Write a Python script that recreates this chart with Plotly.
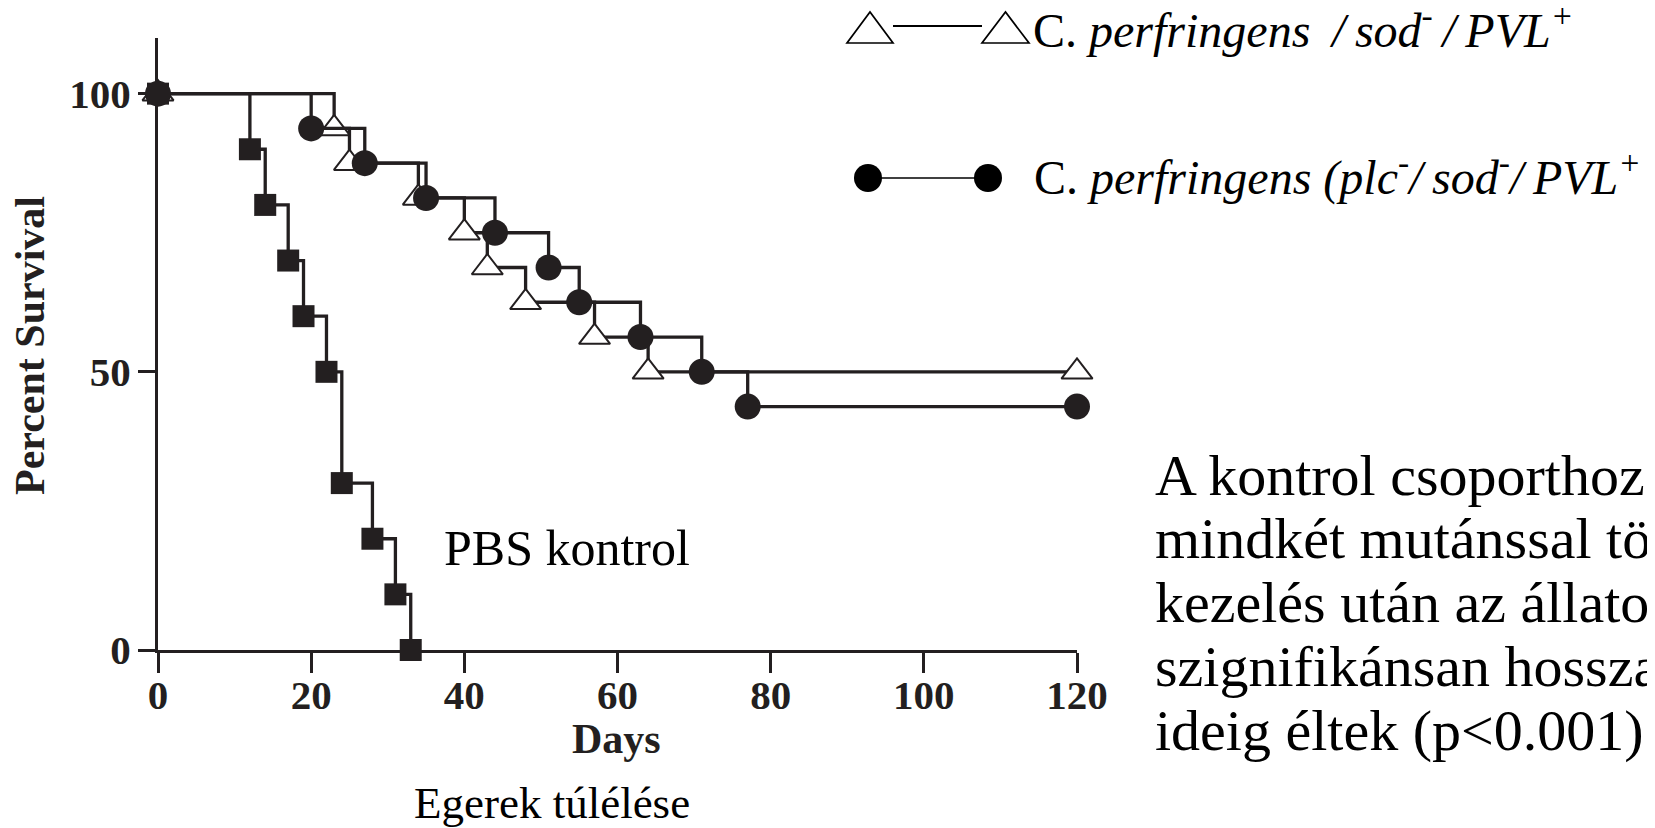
import plotly.graph_objects as go

# ---- data ----
days_pbs = [0, 12, 14, 17, 19, 22, 24, 28, 31, 33]
surv_pbs = [100, 90, 80, 70, 60, 50, 30, 20, 10, 0]

days_sod = [0, 23, 25, 34, 40, 43, 48, 57, 64, 120]
surv_sod = [100, 93.75, 87.5, 81.25, 75, 68.75, 62.5, 56.25, 50, 50]

days_plc = [0, 20, 27, 35, 44, 51, 55, 63, 71, 77, 120]
surv_plc = [100, 93.75, 87.5, 81.25, 75, 68.75, 62.5, 56.25, 50, 43.75, 43.75]

x_ticks = [0, 20, 40, 60, 80, 100, 120]
y_ticks = [0, 50, 100]

TS = "\u2009"  # thin space
legend_sod = f"C. <i>perfringens {TS}/{TS}sod<sup>-</sup>{TS}/{TS}PVL<sup>+</sup></i>"
legend_plc = f"C. <i>perfringens (plc<sup>-</sup>/{TS}sod<sup>-</sup>/{TS}PVL<sup>+</sup></i>"
note_lines = ["A kontrol csoporthoz képest",
              "mindkét mutánssal történő",
              "kezelés után az állatok",
              "szignifikánsan hosszabb",
              "ideig éltek (p<0.001)"]

# ---- geometry (page has an 8px body margin; targets are page pixels) ----
OFF = 8
W, H = 1655 - OFF, 828 - OFF
L, R, T, B = 150, 578, 30, 178
PW, PH = W - L - R, H - T - B
INK = "#231f20"
SERIF = "Liberation Serif"


def px(x):
    return (x - OFF - L) / PW


def py(y):
    return (H - B - (y - OFF)) / PH


fig = go.Figure()

fig.add_trace(go.Scatter(
    x=days_pbs, y=surv_pbs, mode="lines+markers", line_shape="hv",
    line=dict(color=INK, width=3.3),
    marker=dict(symbol="square", size=22, color=INK),
    cliponaxis=False, showlegend=False, name="PBS kontrol"))

fig.add_trace(go.Scatter(
    x=days_sod, y=surv_sod, mode="lines+markers", line_shape="hv",
    line=dict(color=INK, width=3.3),
    marker=dict(symbol="triangle-up", size=27, color="white",
                line=dict(color=INK, width=2)),
    cliponaxis=False, showlegend=False, name="sod-/PVL+"))

fig.add_trace(go.Scatter(
    x=days_plc, y=surv_plc, mode="lines+markers", line_shape="hv",
    line=dict(color=INK, width=3.3),
    marker=dict(symbol="circle", size=26, color=INK),
    cliponaxis=False, showlegend=False, name="plc-/sod-/PVL+"))

axis_common = dict(showline=True, linewidth=3.2, linecolor=INK,
                   ticks="outside", tickwidth=3.2, tickcolor=INK,
                   showgrid=False, zeroline=False, fixedrange=True,
                   tickfont=dict(family=SERIF, size=41, color=INK, weight="bold"))

fig.update_xaxes(range=[0, 120], tickvals=x_ticks, ticklen=20,
                 ticklabelstandoff=-13, **axis_common)
fig.update_yaxes(range=[0, 110], tickvals=y_ticks, ticklen=17,
                 ticklabelstandoff=-1, **axis_common)

ann = []
# axis titles
ann.append(dict(text="Days", x=px(616), y=py(739), xref="paper", yref="paper",
                xanchor="center", yanchor="middle", showarrow=False,
                font=dict(family=SERIF, size=42, color=INK, weight="bold")))
ann.append(dict(text="Percent Survival", x=px(30), y=py(346), xref="paper", yref="paper",
                xanchor="center", yanchor="middle", showarrow=False, textangle=-90,
                font=dict(family=SERIF, size=42, color=INK, weight="bold")))
# labels
ann.append(dict(text="PBS kontrol", x=px(442), y=py(548), xref="paper", yref="paper",
                xanchor="left", yanchor="middle", showarrow=False,
                font=dict(family=SERIF, size=50, color="black")))
ann.append(dict(text="Egerek túlélése", x=px(412), y=py(803), xref="paper", yref="paper",
                xanchor="left", yanchor="middle", showarrow=False,
                font=dict(family=SERIF, size=45, color="black")))
baselines = [495, 558, 622, 687, 750]
for line, bl in zip(note_lines, baselines):
    ann.append(dict(text=line, x=px(1153), y=py(bl - 20), xref="paper", yref="paper",
                    xanchor="left", yanchor="middle", showarrow=False,
                    font=dict(family=SERIF, size=58, color="black")))
# legend texts
ann.append(dict(text=legend_sod, x=px(1031), y=py(27), xref="paper", yref="paper",
                xanchor="left", yanchor="middle", showarrow=False,
                font=dict(family=SERIF, size=48, color="black")))
ann.append(dict(text=legend_plc, x=px(1032), y=py(174), xref="paper", yref="paper",
                xanchor="left", yanchor="middle", showarrow=False,
                font=dict(family=SERIF, size=48, color="black")))

shapes = []


def tri(x0, x1, ytop, ybot):
    xm = (x0 + x1) / 2
    return dict(type="path", xref="paper", yref="paper",
                path=f"M{px(x0)},{py(ybot)} L{px(x1)},{py(ybot)} L{px(xm)},{py(ytop)} Z",
                line=dict(color="black", width=1.7), fillcolor="white")


shapes.append(dict(type="line", xref="paper", yref="paper",
                   x0=px(893), x1=px(982), y0=py(26), y1=py(26),
                   line=dict(color="black", width=2)))
shapes.append(tri(847, 893, 12, 43))
shapes.append(tri(982, 1029, 12, 43))
shapes.append(dict(type="line", xref="paper", yref="paper",
                   x0=px(868), x1=px(988), y0=py(178), y1=py(178),
                   line=dict(color="black", width=1.7)))
for cx in (868, 988):
    shapes.append(dict(type="circle", xref="paper", yref="paper",
                       x0=px(cx - 14), x1=px(cx + 14), y0=py(178 + 14), y1=py(178 - 14),
                       fillcolor="black", line=dict(color="black", width=0)))

fig.update_layout(width=W, height=H, margin=dict(l=L, r=R, t=T, b=B),
                  paper_bgcolor="white", plot_bgcolor="white",
                  annotations=ann, shapes=shapes, showlegend=False)

fig.write_html("out.html")
